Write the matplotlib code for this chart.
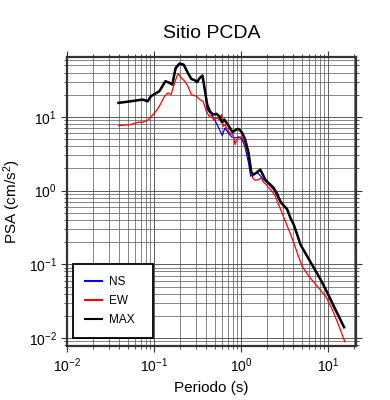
import numpy as np
import matplotlib
matplotlib.use("Agg")
import matplotlib.pyplot as plt
from matplotlib.ticker import LogLocator, NullFormatter

plt.rcParams['font.family'] = ['Liberation Sans', 'DejaVu Sans']
plt.rcParams['mathtext.fontset'] = 'custom'
plt.rcParams['mathtext.rm'] = 'Liberation Sans'
plt.rcParams['mathtext.it'] = 'Liberation Sans:italic'

# periods (s) and spectral accelerations (cm/s^2)
t_max = [0.039, 0.054, 0.074, 0.0845, 0.092, 0.115, 0.135, 0.151, 0.162, 0.177,
         0.196, 0.219, 0.245, 0.268, 0.293, 0.312, 0.335, 0.360, 0.383, 0.408,
         0.438, 0.478, 0.522, 0.561, 0.603, 0.641, 0.682, 0.733, 0.800, 0.875,
         0.940, 1.02, 1.11, 1.22, 1.31, 1.39, 1.52, 1.66, 1.78, 1.90,
         2.02, 2.17, 2.37, 2.59, 2.83, 3.09, 3.38, 3.70, 4.04, 4.42,
         4.82, 5.77, 6.89, 8.23, 9.83, 11.7, 15.3]
psa_max = [15.5, 16.3, 17.2, 16.3, 19.1, 22.3, 30.5, 29.0, 27.5, 46.2,
           53.0, 51.3, 39.5, 32.8, 31.5, 29.6, 33.8, 36.4, 23.5, 14.7,
           11.9, 10.8, 11.0, 10.2, 8.47, 9.20, 8.29, 7.31, 6.19, 6.73,
           6.87, 6.19, 5.03, 3.25, 1.77, 1.65, 1.77, 1.93, 1.65, 1.41,
           1.30, 1.21, 1.09, 0.91, 0.717, 0.626, 0.564, 0.425, 0.345, 0.253,
           0.185, 0.128, 0.089, 0.062, 0.041, 0.0269, 0.0140]

t_ew = [0.039, 0.054, 0.0647, 0.074, 0.0845, 0.0948, 0.105, 0.115, 0.132, 0.144,
        0.157, 0.172, 0.188, 0.206, 0.225, 0.245, 0.268, 0.306, 0.335, 0.366,
        0.400, 0.430, 0.457, 0.487, 0.522, 0.561, 0.597, 0.624, 0.653, 0.695,
        0.746, 0.815, 0.852, 0.891, 0.956, 1.02, 1.08, 1.16, 1.27, 1.36,
        1.45, 1.59, 1.71, 1.81, 1.95, 2.07, 2.27, 2.48, 2.71, 2.96,
        3.23, 3.53, 4.04, 4.50, 5.04, 6.03, 7.52, 9.40, 11.2, 13.4, 15.6]
psa_ew = [7.63, 7.87, 8.47, 8.47, 9.01, 10.4, 11.9, 14.0, 19.1, 21.2,
          20.1, 29.0, 38.7, 33.8, 30.5, 26.1, 20.1, 19.1, 17.2, 16.3,
          11.9, 10.2, 10.4, 9.01, 9.69, 9.20, 10.8, 7.47, 7.87, 6.73,
          6.06, 5.58, 4.21, 4.92, 5.35, 5.35, 4.67, 3.60, 2.37, 1.49,
          1.38, 1.41, 1.49, 1.30, 1.21, 1.09, 0.98, 0.838, 0.645, 0.497,
          0.383, 0.296, 0.195, 0.135, 0.094, 0.0687, 0.0503, 0.0368, 0.0243, 0.0144, 0.0089]

t_ns = [0.039, 0.054, 0.074, 0.0845, 0.092, 0.115, 0.135, 0.151, 0.162, 0.177,
        0.196, 0.219, 0.245, 0.268, 0.293, 0.312, 0.335, 0.360, 0.383, 0.408,
        0.457, 0.500, 0.546, 0.608, 0.653, 0.713, 0.780, 0.852, 0.931, 1.02,
        1.11, 1.22, 1.29, 1.41, 1.55, 1.66, 1.81, 2.02, 2.17, 2.37,
        2.59, 2.83, 3.09, 3.38, 3.70, 4.04, 4.42, 4.82, 5.77, 6.89,
        8.23, 9.83, 11.7, 15.1]
psa_ns = [15.5, 16.3, 17.2, 16.3, 19.1, 22.3, 30.5, 29.0, 27.5, 44.0,
          52.0, 50.0, 39.5, 32.8, 31.5, 29.6, 33.8, 36.4, 23.5, 12.6,
          10.8, 9.01, 7.31, 5.58, 7.09, 6.06, 5.35, 5.19, 5.35, 5.03,
          3.91, 2.37, 1.57, 1.65, 1.74, 1.60, 1.41, 1.27, 1.15, 1.03,
          0.855, 0.695, 0.613, 0.552, 0.425, 0.345, 0.253, 0.185, 0.128, 0.089,
          0.062, 0.041, 0.0255, 0.0141]

fig = plt.figure(figsize=(3.9, 4.0), dpi=100)
ax = fig.add_axes([0.172, 0.135, 0.741, 0.7225])

ax.plot(t_ns, psa_ns, color='blue', lw=0.9, label='NS')
ax.plot(t_ew, psa_ew, color='red', lw=0.9, label='EW')
ax.plot(t_max, psa_max, color='black', lw=1.8, label='MAX')

ax.set_xscale('log')
ax.set_yscale('log')
ax.set_xlim(0.01, 21)
ax.set_ylim(0.0078, 65)

ax.xaxis.set_minor_locator(LogLocator(base=10, subs=np.arange(2, 10)))
ax.yaxis.set_minor_locator(LogLocator(base=10, subs=np.arange(2, 10)))
ax.xaxis.set_minor_formatter(NullFormatter())
ax.yaxis.set_minor_formatter(NullFormatter())
ax.grid(True, which='major', color='#444444', lw=0.6)
ax.grid(True, which='minor', color='#555555', lw=0.5)
ax.set_axisbelow(True)

ax.tick_params(which='both', direction='out', top=True, right=True,
               labelsize=10, color='#333333')
ax.tick_params(which='major', length=4, width=0.8)
ax.tick_params(which='minor', length=2, width=0.6)
for s in ax.spines.values():
    s.set_linewidth(1.6)
    s.set_color('#333333')

ax.set_xlabel('Periodo (s)', fontsize=11, labelpad=4)
ax.set_ylabel('PSA (cm/s$^2$)', fontsize=11, labelpad=4)
ax.set_title('Sitio PCDA', fontsize=14, pad=14)

leg = ax.legend(loc='lower left', bbox_to_anchor=(0.022, 0.028, 0.277, 0.25),
                mode='expand', fontsize=8.5, handlelength=1.4, handletextpad=0.65,
                labelspacing=0.6, borderpad=1.0, fancybox=False, framealpha=1,
                borderaxespad=0)
leg.get_frame().set_edgecolor('black')
leg.get_frame().set_linewidth(1.3)
for h in leg.legend_handles:
    h.set_linewidth(1.5)

fig.savefig('out.png', dpi=100)
